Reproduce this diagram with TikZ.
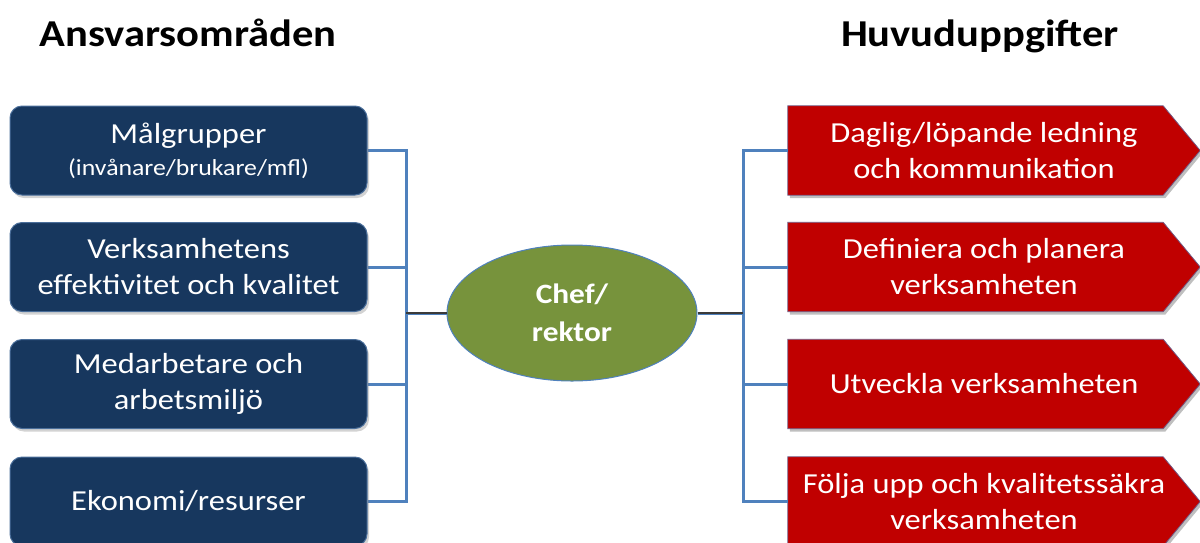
\documentclass[tikz,border=0pt]{standalone}
\usepackage{fontspec}
\setmainfont[FakeStretch=1.12]{Carlito}
\usetikzlibrary{shapes.geometric,backgrounds,shadows}
\definecolor{navy}{HTML}{17375E}
\definecolor{navyedge}{HTML}{4A6E9A}
\definecolor{redc}{HTML}{C00000}
\definecolor{greenc}{HTML}{77933C}
\definecolor{linec}{HTML}{4F81BD}
\definecolor{darkline}{HTML}{3A3A3A}
\tikzset{
  leftbox/.style={rectangle, rounded corners=12pt, fill=navy, draw=navyedge, line width=1pt,
    minimum width=357pt, minimum height=89pt, text=white, align=center,
    font=\fontsize{29}{36}\selectfont, inner sep=0pt,
    drop shadow={opacity=0.35, shadow xshift=2pt, shadow yshift=-3pt}},
  rightbox/.style={rectangle, minimum width=392pt, minimum height=89pt, text=white, align=center,
    font=\fontsize{29}{36}\selectfont, inner sep=0pt},
  redshape/.style={fill=redc, draw=linec!70!redc, line width=0.8pt},
  chefnode/.style={ellipse, fill=greenc, draw=linec, line width=1pt, minimum width=250pt,
    minimum height=136pt, text=white, align=center, font=\fontsize{28}{38}\selectfont\bfseries, inner sep=0pt},
  conn/.style={draw=linec, line width=3pt},
  hubconn/.style={draw=darkline, line width=3pt},
  heading/.style={anchor=base, font=\fontsize{38}{40}\selectfont\bfseries, text=black, inner sep=0pt}
}
\begin{document}
\begin{tikzpicture}[x=1pt,y=-1pt]
\useasboundingbox (0,0) rectangle (1200,542);
% headings
\node[heading] (h1) at (188,46) {Ansvarsområden};
\node[heading] (h2) at (980,46) {Huvuduppgifter};
% left boxes
\node[leftbox] (l1) at (188.5,150.5) {Målgrupper\\[-4pt]{\fontsize{23}{26}\selectfont (invånare/brukare/mfl)}};
\node[leftbox] (l2) at (188.5,267) {Verksamhetens\\effektivitet och kvalitet};
\node[leftbox] (l3) at (188.5,384) {Medarbetare och\\arbetsmiljö};
\node[leftbox] (l4) at (188.5,501.5) {Ekonomi/resurser};
% centre
\node[chefnode] (chef) at (572,313) {Chef/\\rektor};
% right boxes
\node[rightbox] (r1) at (984,150.5) {Daglig/löpande ledning\\och kommunikation};
\node[rightbox] (r2) at (984,267) {Definiera och planera\\verksamheten};
\node[rightbox] (r3) at (984,384) {Utveckla verksamheten};
\node[rightbox] (r4) at (984,501.5) {Följa upp och kvalitetssäkra\\verksamheten};
\begin{scope}[on background layer]
\foreach \n in {r1,r2,r3,r4}{
  \fill[black,opacity=0.25] ([xshift=2pt,yshift=-3pt]\n.north west) -- ([xshift=-15pt,yshift=-3pt]\n.north east) -- ([xshift=22pt,yshift=-3pt]\n.east) -- ([xshift=-15pt,yshift=-3pt]\n.south east) -- ([xshift=2pt,yshift=-3pt]\n.south west) -- cycle;
  \path[redshape] (\n.north west) -- ([xshift=-17pt]\n.north east) -- ([xshift=20pt]\n.east) -- ([xshift=-17pt]\n.south east) -- (\n.south west) -- cycle;
}
\end{scope}
% junctions
\coordinate (lj) at (406,313);
\coordinate (rj) at (743,313);
\begin{scope}[on background layer]
\foreach \n in {l1,l2,l3,l4} \draw[conn] (\n.east) -| (lj);
\foreach \n in {r1,r2,r3,r4} \draw[conn] (\n.west) -| (rj);
\end{scope}
\draw[conn] (lj) -- (chef.west);
\draw[hubconn,line width=1.8pt] (lj) -- (chef.west);
\draw[conn] (chef.east) -- (rj);
\draw[hubconn,line width=1.8pt] (chef.east) -- (rj);
\end{tikzpicture}
\end{document}
